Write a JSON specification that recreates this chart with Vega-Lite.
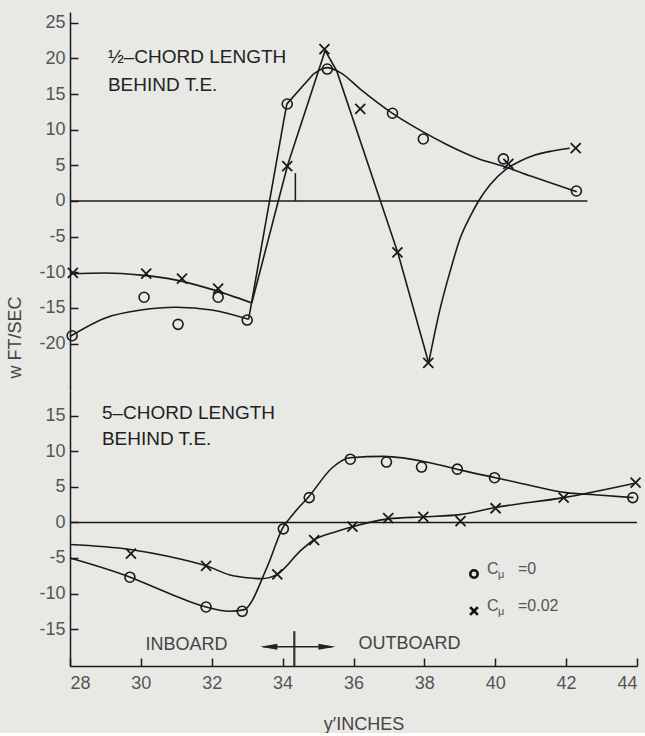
{
  "$schema": "https://vega.github.io/schema/vega-lite/v6.json",
  "background": "#e8e8e5",
  "padding": {"left": 6, "top": 12, "right": 0, "bottom": 0},
  "spacing": 0,
  "config": {
    "view": {"stroke": null},
    "font": "Liberation Sans",
    "axis": {
      "grid": false,
      "domainColor": "#1a1a1a",
      "domainWidth": 1.5,
      "tickColor": "#1a1a1a",
      "tickWidth": 1.5,
      "tickSize": -8,
      "labelPadding": 13,
      "labelFont": "Liberation Sans",
      "labelFontSize": 18,
      "labelColor": "#555555",
      "labelExpr": "datum.value < 0 ? '-' + abs(datum.value) : '' + datum.value",
      "titleFont": "Liberation Sans",
      "titleFontSize": 18,
      "titleFontWeight": "normal",
      "titleColor": "#444444"
    }
  },
  "datasets": {
    "curves": [
      {"panel": "top", "seg": "t_o1", "kind": "smooth", "x": 28, "y": -19},
      {"panel": "top", "seg": "t_o1", "kind": "smooth", "x": 29, "y": -16.4},
      {"panel": "top", "seg": "t_o1", "kind": "smooth", "x": 30, "y": -15.3},
      {"panel": "top", "seg": "t_o1", "kind": "smooth", "x": 31, "y": -14.9},
      {"panel": "top", "seg": "t_o1", "kind": "smooth", "x": 32, "y": -15.3},
      {"panel": "top", "seg": "t_o1", "kind": "smooth", "x": 33.04, "y": -16.6},
      {"panel": "top", "seg": "t_o2", "kind": "straight", "x": 33.04, "y": -16.6},
      {"panel": "top", "seg": "t_o2", "kind": "straight", "x": 34.03, "y": 11.2},
      {"panel": "top", "seg": "t_o2", "kind": "straight", "x": 34.12, "y": 13.6},
      {"panel": "top", "seg": "t_o2", "kind": "straight", "x": 34.87, "y": 17.8},
      {"panel": "top", "seg": "t_o3", "kind": "smooth", "x": 34.87, "y": 17.8},
      {"panel": "top", "seg": "t_o3", "kind": "smooth", "x": 35.25, "y": 18.7},
      {"panel": "top", "seg": "t_o3", "kind": "smooth", "x": 35.63, "y": 18.0},
      {"panel": "top", "seg": "t_o3", "kind": "smooth", "x": 36.19, "y": 15.7},
      {"panel": "top", "seg": "t_o3", "kind": "smooth", "x": 37.07, "y": 12.4},
      {"panel": "top", "seg": "t_o3", "kind": "smooth", "x": 37.89, "y": 9.9},
      {"panel": "top", "seg": "t_o3", "kind": "smooth", "x": 38.6, "y": 8.0},
      {"panel": "top", "seg": "t_o3", "kind": "smooth", "x": 39.49, "y": 6.0},
      {"panel": "top", "seg": "t_o3", "kind": "smooth", "x": 40.33, "y": 4.7},
      {"panel": "top", "seg": "t_o3", "kind": "smooth", "x": 41.0, "y": 3.5},
      {"panel": "top", "seg": "t_o3", "kind": "smooth", "x": 41.7, "y": 2.3},
      {"panel": "top", "seg": "t_o3", "kind": "smooth", "x": 42.3, "y": 1.3},
      {"panel": "top", "seg": "t_x1", "kind": "smooth", "x": 28, "y": -10.2},
      {"panel": "top", "seg": "t_x1", "kind": "smooth", "x": 29, "y": -10.1},
      {"panel": "top", "seg": "t_x1", "kind": "smooth", "x": 30, "y": -10.4},
      {"panel": "top", "seg": "t_x1", "kind": "smooth", "x": 31, "y": -11.1},
      {"panel": "top", "seg": "t_x1", "kind": "smooth", "x": 32, "y": -12.4},
      {"panel": "top", "seg": "t_x1", "kind": "smooth", "x": 33.13, "y": -14.3},
      {"panel": "top", "seg": "t_x2", "kind": "straight", "x": 33.13, "y": -14.3},
      {"panel": "top", "seg": "t_x2", "kind": "straight", "x": 34.14, "y": 5.0},
      {"panel": "top", "seg": "t_x2", "kind": "straight", "x": 35.2, "y": 21.1},
      {"panel": "top", "seg": "t_x2", "kind": "straight", "x": 35.53, "y": 18.2},
      {"panel": "top", "seg": "t_x2", "kind": "straight", "x": 36.76, "y": 0},
      {"panel": "top", "seg": "t_x2", "kind": "straight", "x": 37.25, "y": -7.25},
      {"panel": "top", "seg": "t_x2", "kind": "straight", "x": 38.12, "y": -22.7},
      {"panel": "top", "seg": "t_x3", "kind": "smooth", "x": 38.12, "y": -22.7},
      {"panel": "top", "seg": "t_x3", "kind": "smooth", "x": 38.45, "y": -15.0},
      {"panel": "top", "seg": "t_x3", "kind": "smooth", "x": 38.73, "y": -9.8},
      {"panel": "top", "seg": "t_x3", "kind": "smooth", "x": 39.02, "y": -5.1},
      {"panel": "top", "seg": "t_x3", "kind": "smooth", "x": 39.3, "y": -2.1},
      {"panel": "top", "seg": "t_x3", "kind": "smooth", "x": 39.53, "y": 0},
      {"panel": "top", "seg": "t_x3", "kind": "smooth", "x": 39.86, "y": 2.3},
      {"panel": "top", "seg": "t_x3", "kind": "smooth", "x": 40.29, "y": 4.4},
      {"panel": "top", "seg": "t_x3", "kind": "smooth", "x": 40.71, "y": 5.6},
      {"panel": "top", "seg": "t_x3", "kind": "smooth", "x": 41.1, "y": 6.4},
      {"panel": "top", "seg": "t_x3", "kind": "smooth", "x": 41.6, "y": 7.0},
      {"panel": "top", "seg": "t_x3", "kind": "smooth", "x": 42.1, "y": 7.4},
      {"panel": "bottom", "seg": "b_o", "kind": "smooth", "x": 28, "y": -5.0},
      {"panel": "bottom", "seg": "b_o", "kind": "smooth", "x": 29.7, "y": -7.7},
      {"panel": "bottom", "seg": "b_o", "kind": "smooth", "x": 30.8, "y": -10.0},
      {"panel": "bottom", "seg": "b_o", "kind": "smooth", "x": 31.84, "y": -11.9},
      {"panel": "bottom", "seg": "b_o", "kind": "smooth", "x": 32.5, "y": -12.5},
      {"panel": "bottom", "seg": "b_o", "kind": "smooth", "x": 32.9, "y": -12.3},
      {"panel": "bottom", "seg": "b_o", "kind": "smooth", "x": 33.56, "y": -6.3},
      {"panel": "bottom", "seg": "b_o", "kind": "smooth", "x": 34.0, "y": -0.8},
      {"panel": "bottom", "seg": "b_o", "kind": "smooth", "x": 34.3, "y": 1.2},
      {"panel": "bottom", "seg": "b_o", "kind": "smooth", "x": 34.75, "y": 3.7},
      {"panel": "bottom", "seg": "b_o", "kind": "smooth", "x": 35.4, "y": 7.7},
      {"panel": "bottom", "seg": "b_o", "kind": "smooth", "x": 35.9, "y": 9.1},
      {"panel": "bottom", "seg": "b_o", "kind": "smooth", "x": 36.85, "y": 9.3},
      {"panel": "bottom", "seg": "b_o", "kind": "smooth", "x": 38.25, "y": 8.3},
      {"panel": "bottom", "seg": "b_o", "kind": "smooth", "x": 39.0, "y": 7.4},
      {"panel": "bottom", "seg": "b_o", "kind": "smooth", "x": 40.0, "y": 6.3},
      {"panel": "bottom", "seg": "b_o", "kind": "smooth", "x": 41.0, "y": 5.2},
      {"panel": "bottom", "seg": "b_o", "kind": "smooth", "x": 42.0, "y": 4.2},
      {"panel": "bottom", "seg": "b_o", "kind": "smooth", "x": 42.8, "y": 3.9},
      {"panel": "bottom", "seg": "b_o", "kind": "smooth", "x": 43.9, "y": 3.5},
      {"panel": "bottom", "seg": "b_x", "kind": "smooth", "x": 28, "y": -3.1},
      {"panel": "bottom", "seg": "b_x", "kind": "smooth", "x": 29.7, "y": -3.8},
      {"panel": "bottom", "seg": "b_x", "kind": "smooth", "x": 30.8, "y": -4.8},
      {"panel": "bottom", "seg": "b_x", "kind": "smooth", "x": 31.84, "y": -6.1},
      {"panel": "bottom", "seg": "b_x", "kind": "smooth", "x": 32.6, "y": -7.5},
      {"panel": "bottom", "seg": "b_x", "kind": "smooth", "x": 33.4, "y": -7.9},
      {"panel": "bottom", "seg": "b_x", "kind": "smooth", "x": 33.85, "y": -7.3},
      {"panel": "bottom", "seg": "b_x", "kind": "smooth", "x": 34.5, "y": -4.0},
      {"panel": "bottom", "seg": "b_x", "kind": "smooth", "x": 34.9, "y": -2.4},
      {"panel": "bottom", "seg": "b_x", "kind": "smooth", "x": 35.5, "y": -1.3},
      {"panel": "bottom", "seg": "b_x", "kind": "smooth", "x": 35.97, "y": -0.6},
      {"panel": "bottom", "seg": "b_x", "kind": "smooth", "x": 36.98, "y": 0.5},
      {"panel": "bottom", "seg": "b_x", "kind": "smooth", "x": 38.0, "y": 0.8},
      {"panel": "bottom", "seg": "b_x", "kind": "smooth", "x": 39.0, "y": 1.1},
      {"panel": "bottom", "seg": "b_x", "kind": "smooth", "x": 40.0, "y": 2.1},
      {"panel": "bottom", "seg": "b_x", "kind": "smooth", "x": 41.93, "y": 3.5},
      {"panel": "bottom", "seg": "b_x", "kind": "smooth", "x": 44.0, "y": 5.6}
    ],
    "points": [
      {"panel": "top", "series": "Cmu=0", "x": 28.06, "y": -18.9},
      {"panel": "top", "series": "Cmu=0", "x": 30.09, "y": -13.5},
      {"panel": "top", "series": "Cmu=0", "x": 31.05, "y": -17.3},
      {"panel": "top", "series": "Cmu=0", "x": 32.18, "y": -13.5},
      {"panel": "top", "series": "Cmu=0", "x": 33.0, "y": -16.7},
      {"panel": "top", "series": "Cmu=0", "x": 34.13, "y": 13.6},
      {"panel": "top", "series": "Cmu=0", "x": 35.26, "y": 18.5},
      {"panel": "top", "series": "Cmu=0", "x": 37.1, "y": 12.3},
      {"panel": "top", "series": "Cmu=0", "x": 37.97, "y": 8.7},
      {"panel": "top", "series": "Cmu=0", "x": 40.23, "y": 5.9},
      {"panel": "top", "series": "Cmu=0", "x": 42.29, "y": 1.4},
      {"panel": "top", "series": "Cmu=0.02", "x": 28.08, "y": -10.1},
      {"panel": "top", "series": "Cmu=0.02", "x": 30.15, "y": -10.2},
      {"panel": "top", "series": "Cmu=0.02", "x": 31.16, "y": -10.9},
      {"panel": "top", "series": "Cmu=0.02", "x": 32.18, "y": -12.3},
      {"panel": "top", "series": "Cmu=0.02", "x": 34.13, "y": 4.9},
      {"panel": "top", "series": "Cmu=0.02", "x": 35.18, "y": 21.3},
      {"panel": "top", "series": "Cmu=0.02", "x": 36.19, "y": 12.9},
      {"panel": "top", "series": "Cmu=0.02", "x": 37.24, "y": -7.2},
      {"panel": "top", "series": "Cmu=0.02", "x": 38.11, "y": -22.7},
      {"panel": "top", "series": "Cmu=0.02", "x": 40.37, "y": 5.2},
      {"panel": "top", "series": "Cmu=0.02", "x": 42.27, "y": 7.4},
      {"panel": "bottom", "series": "Cmu=0", "x": 29.69, "y": -7.7},
      {"panel": "bottom", "series": "Cmu=0", "x": 31.84, "y": -11.9},
      {"panel": "bottom", "series": "Cmu=0", "x": 32.86, "y": -12.5},
      {"panel": "bottom", "series": "Cmu=0", "x": 34.02, "y": -0.9},
      {"panel": "bottom", "series": "Cmu=0", "x": 34.75, "y": 3.5},
      {"panel": "bottom", "series": "Cmu=0", "x": 35.91, "y": 8.9},
      {"panel": "bottom", "series": "Cmu=0", "x": 36.93, "y": 8.5},
      {"panel": "bottom", "series": "Cmu=0", "x": 37.92, "y": 7.8},
      {"panel": "bottom", "series": "Cmu=0", "x": 38.93, "y": 7.5},
      {"panel": "bottom", "series": "Cmu=0", "x": 39.98, "y": 6.3},
      {"panel": "bottom", "series": "Cmu=0", "x": 43.88, "y": 3.5},
      {"panel": "bottom", "series": "Cmu=0.02", "x": 29.72, "y": -4.4},
      {"panel": "bottom", "series": "Cmu=0.02", "x": 31.84, "y": -6.1},
      {"panel": "bottom", "series": "Cmu=0.02", "x": 33.85, "y": -7.3},
      {"panel": "bottom", "series": "Cmu=0.02", "x": 34.89, "y": -2.5},
      {"panel": "bottom", "series": "Cmu=0.02", "x": 35.97, "y": -0.6},
      {"panel": "bottom", "series": "Cmu=0.02", "x": 36.98, "y": 0.6},
      {"panel": "bottom", "series": "Cmu=0.02", "x": 37.97, "y": 0.8},
      {"panel": "bottom", "series": "Cmu=0.02", "x": 39.02, "y": 0.2},
      {"panel": "bottom", "series": "Cmu=0.02", "x": 40.01, "y": 2.0},
      {"panel": "bottom", "series": "Cmu=0.02", "x": 41.93, "y": 3.5},
      {"panel": "bottom", "series": "Cmu=0.02", "x": 43.96, "y": 5.6}
    ],
    "zero": [
      {"panel": "top", "x": 28, "x2": 42.6, "y": 0},
      {"panel": "bottom", "x": 28, "x2": 44, "y": 0}
    ],
    "vticks": [
      {"panel": "top", "x": 34.36, "y": 0, "y2": 3.9},
      {"panel": "bottom", "x": 34.33, "y": -15.3, "y2": -20.2}
    ],
    "labels": [
      {"panel": "top", "x": 29.07, "y": 20.24, "text": "½–CHORD LENGTH"},
      {"panel": "top", "x": 29.07, "y": 16.27, "text": "BEHIND T.E."},
      {"panel": "bottom", "x": 28.9, "y": 15.46, "text": "5–CHORD LENGTH"},
      {"panel": "bottom", "x": 28.9, "y": 11.7, "text": "BEHIND T.E."}
    ],
    "sides": [
      {"x": 31.29, "y": -17.25, "text": "INBOARD"},
      {"x": 37.58, "y": -17.1, "text": "OUTBOARD"}
    ],
    "arrow": [
      {"x": 33.45, "x2": 35.4, "y": -17.5}
    ],
    "heads": [
      {"dir": "left", "x": 33.61, "y": -17.5},
      {"dir": "right", "x": 35.25, "y": -17.5}
    ],
    "legend": [
      {"series": "Cmu=0", "x": 39.4, "y": -7.25, "ty": -6.55, "label": "=0"},
      {"series": "Cmu=0.02", "x": 39.4, "y": -12.46, "ty": -11.76, "label": "=0.02"}
    ]
  },
  "vconcat": [
    {
      "width": 567,
      "height": 379,
      "encoding": {
        "x": {"field": "x", "type": "quantitative", "scale": {"domain": [28, 44], "nice": false, "zero": false}, "axis": null},
        "y": {
          "field": "y", "type": "quantitative",
          "scale": {"domain": [-26.65, 26.5], "nice": false, "zero": false},
          "axis": {"values": [-20, -15, -10, -5, 0, 5, 10, 15, 20, 25], "title": "w FT/SEC", "titleX": -46, "titleY": 325, "titleAngle": -90, "titleBaseline": "bottom", "titleAlign": "center"}
        }
      },
      "layer": [
        {
          "data": {"name": "zero"},
          "transform": [{"filter": "datum.panel === 'top'"}],
          "mark": {"type": "rule", "color": "#1a1a1a", "strokeWidth": 1.5},
          "encoding": {"x2": {"field": "x2"}}
        },
        {
          "data": {"name": "vticks"},
          "transform": [{"filter": "datum.panel === 'top'"}],
          "mark": {"type": "rule", "color": "#1a1a1a", "strokeWidth": 1.5},
          "encoding": {"y2": {"field": "y2"}}
        },
        {
          "data": {"name": "curves"},
          "transform": [{"filter": "datum.panel === 'top' && datum.kind === 'smooth'"}],
          "mark": {"type": "line", "interpolate": "monotone", "color": "#1a1a1a", "strokeWidth": 1.6},
          "encoding": {"detail": {"field": "seg"}}
        },
        {
          "data": {"name": "curves"},
          "transform": [{"filter": "datum.panel === 'top' && datum.kind === 'straight'"}],
          "mark": {"type": "line", "interpolate": "linear", "color": "#1a1a1a", "strokeWidth": 1.6},
          "encoding": {"detail": {"field": "seg"}}
        },
        {
          "data": {"name": "points"},
          "transform": [{"filter": "datum.panel === 'top' && datum.series === 'Cmu=0'"}],
          "mark": {"type": "point", "shape": "circle", "filled": false, "color": "#1a1a1a", "strokeWidth": 1.6, "size": 100, "opacity": 1}
        },
        {
          "data": {"name": "points"},
          "transform": [{"filter": "datum.panel === 'top' && datum.series === 'Cmu=0.02'"}],
          "mark": {"type": "point", "shape": "M-1,-1L1,1M-1,1L1,-1", "filled": false, "color": "#1a1a1a", "strokeWidth": 1.8, "size": 100, "opacity": 1}
        },
        {
          "data": {"name": "labels"},
          "transform": [{"filter": "datum.panel === 'top'"}],
          "mark": {"type": "text", "align": "left", "baseline": "middle", "fontSize": 19, "font": "Liberation Sans", "color": "#222222"},
          "encoding": {"text": {"field": "text"}}
        }
      ]
    },
    {
      "width": 567,
      "height": 275,
      "encoding": {
        "x": {
          "field": "x", "type": "quantitative",
          "scale": {"domain": [28, 44], "nice": false, "zero": false},
          "axis": {"values": [28, 30, 32, 34, 36, 38, 40, 42, 44], "labelPadding": 16, "title": "y′INCHES", "titleX": 293.5, "titleY": 63, "titleBaseline": "alphabetic", "titleAlign": "center"}
        },
        "y": {
          "field": "y", "type": "quantitative",
          "scale": {"domain": [-20.2, 18.5], "nice": false, "zero": false},
          "axis": {"values": [-15, -10, -5, 0, 5, 10, 15], "title": null}
        }
      },
      "layer": [
        {
          "data": {"name": "zero"},
          "transform": [{"filter": "datum.panel === 'bottom'"}],
          "mark": {"type": "rule", "color": "#1a1a1a", "strokeWidth": 1.5},
          "encoding": {"x2": {"field": "x2"}}
        },
        {
          "data": {"name": "vticks"},
          "transform": [{"filter": "datum.panel === 'bottom'"}],
          "mark": {"type": "rule", "color": "#333333", "strokeWidth": 2.2},
          "encoding": {"y2": {"field": "y2"}}
        },
        {
          "data": {"name": "arrow"},
          "mark": {"type": "rule", "color": "#222222", "strokeWidth": 1.6},
          "encoding": {"x2": {"field": "x2"}}
        },
        {
          "data": {"name": "heads"},
          "transform": [{"filter": "datum.dir === 'left'"}],
          "mark": {"type": "point", "shape": "M-1,0L1,-0.35L1,0.35Z", "filled": true, "color": "#222222", "size": 289, "opacity": 1}
        },
        {
          "data": {"name": "heads"},
          "transform": [{"filter": "datum.dir === 'right'"}],
          "mark": {"type": "point", "shape": "M1,0L-1,-0.35L-1,0.35Z", "filled": true, "color": "#222222", "size": 289, "opacity": 1}
        },
        {
          "data": {"name": "curves"},
          "transform": [{"filter": "datum.panel === 'bottom'"}],
          "mark": {"type": "line", "interpolate": "monotone", "color": "#1a1a1a", "strokeWidth": 1.6},
          "encoding": {"detail": {"field": "seg"}}
        },
        {
          "data": {"name": "points"},
          "transform": [{"filter": "datum.panel === 'bottom' && datum.series === 'Cmu=0'"}],
          "mark": {"type": "point", "shape": "circle", "filled": false, "color": "#1a1a1a", "strokeWidth": 1.6, "size": 100, "opacity": 1}
        },
        {
          "data": {"name": "points"},
          "transform": [{"filter": "datum.panel === 'bottom' && datum.series === 'Cmu=0.02'"}],
          "mark": {"type": "point", "shape": "M-1,-1L1,1M-1,1L1,-1", "filled": false, "color": "#1a1a1a", "strokeWidth": 1.8, "size": 100, "opacity": 1}
        },
        {
          "data": {"name": "labels"},
          "transform": [{"filter": "datum.panel === 'bottom'"}],
          "mark": {"type": "text", "align": "left", "baseline": "middle", "fontSize": 19, "font": "Liberation Sans", "color": "#222222"},
          "encoding": {"text": {"field": "text"}}
        },
        {
          "data": {"name": "sides"},
          "mark": {"type": "text", "align": "center", "baseline": "middle", "fontSize": 18, "font": "Liberation Sans", "color": "#444444"},
          "encoding": {"text": {"field": "text"}}
        },
        {
          "data": {"name": "legend"},
          "transform": [{"filter": "datum.series === 'Cmu=0'"}],
          "mark": {"type": "point", "shape": "circle", "filled": false, "color": "#111111", "strokeWidth": 2.6, "size": 55, "opacity": 1}
        },
        {
          "data": {"name": "legend"},
          "transform": [{"filter": "datum.series === 'Cmu=0.02'"}],
          "mark": {"type": "point", "shape": "M-1,-1L1,1M-1,1L1,-1", "filled": false, "color": "#111111", "strokeWidth": 2.8, "size": 60, "opacity": 1}
        },
        {
          "data": {"name": "legend"},
          "mark": {"type": "text", "align": "left", "baseline": "middle", "fontSize": 16, "font": "Liberation Sans", "color": "#555555", "dx": 13},
          "encoding": {"y": {"field": "ty", "type": "quantitative"}, "text": {"value": "C"}}
        },
        {
          "data": {"name": "legend"},
          "mark": {"type": "text", "align": "left", "baseline": "middle", "fontSize": 11, "font": "Liberation Sans", "color": "#555555", "dx": 24, "dy": 6},
          "encoding": {"y": {"field": "ty", "type": "quantitative"}, "text": {"value": "μ"}}
        },
        {
          "data": {"name": "legend"},
          "mark": {"type": "text", "align": "left", "baseline": "middle", "fontSize": 16, "font": "Liberation Sans", "color": "#555555", "dx": 44},
          "encoding": {"y": {"field": "ty", "type": "quantitative"}, "text": {"field": "label"}}
        }
      ]
    }
  ]
}
